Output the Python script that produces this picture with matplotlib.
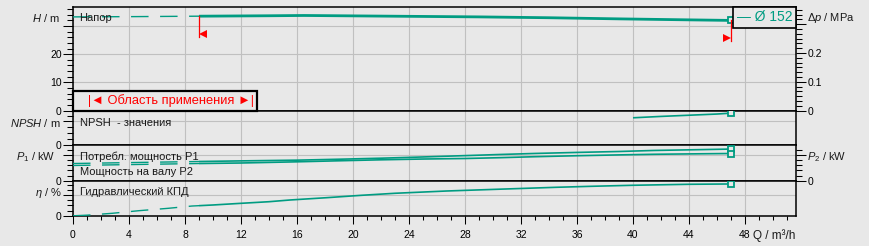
import numpy as np
import matplotlib.pyplot as plt
from matplotlib.ticker import MultipleLocator, AutoMinorLocator
from matplotlib.offsetbox import AnchoredText
from matplotlib.transforms import ScaledTranslation

plt.rcParams['font.family'] = ['Liberation Sans', 'DejaVu Sans']
plt.rcParams['mathtext.fontset'] = 'custom'
plt.rcParams['mathtext.rm'] = 'Liberation Sans'
plt.rcParams['mathtext.it'] = 'Liberation Sans:italic'

# --- data ---
q_head = [0, 4.5, 9, 14, 16.5, 19, 24, 29, 34, 39, 44, 47]
head = [33.2, 33.3, 33.45, 33.6, 33.7, 33.6, 33.4, 33.2, 32.9, 32.5, 32.15, 31.95]

q_npsh = [40, 42, 44, 46, 47]
npsh = [4.62, 4.85, 5.05, 5.25, 5.4]

q_pow = [0, 4.5, 9, 12, 16, 19, 22, 25, 28, 30.5, 33, 36, 39, 41.5, 45, 47]
p1 = [3.35, 3.55, 3.74, 3.86, 4.0, 4.18, 4.38, 4.62, 4.88, 5.1, 5.3, 5.5, 5.68, 5.88, 6.05, 6.15]
p2 = [2.97, 3.16, 3.35, 3.45, 3.68, 3.88, 4.07, 4.22, 4.32, 4.48, 4.67, 4.86, 5.02, 5.14, 5.24, 5.29]

q_eff = [0, 1, 2.8, 4.7, 6.8, 8.5, 10, 12, 14, 15.5, 18.1, 20.6, 23, 26.7, 30.3, 34.5, 37, 40, 44, 47]
eff = [0, 1.2, 4.8, 9.8, 14.4, 18.8, 20.8, 24, 27.1, 30.4, 34.8, 39.4, 43.3, 47.7, 51, 54.8, 56.7, 58.7, 60.6, 61.2]

q_range = [9, 47]          # application range (Область применения)
x_ticks = list(range(0, 49, 4))
curve_name = 'Ø 152'

TEAL = '#009c82'
BG = '#e8e8e8'
GRID = '#c0c0c0'
TXT = '#1a1a1a'

W, H = 869, 246
fig = plt.figure(figsize=(W / 100, H / 100), dpi=100, facecolor=BG)


def panel(top, bottom, left=73, right=796):
    """Axes placed by pixel edges."""
    ax = fig.add_axes([left / W, 1 - bottom / H, (right - left) / W, (bottom - top) / H])
    ax.set_facecolor(BG)
    ax.set_xlim(0, (right - left) / 14)
    ax.set_xticks(x_ticks)
    ax.xaxis.set_minor_locator(MultipleLocator(1))
    ax.grid(True, which='major', color=GRID, lw=0.8)
    ax.set_axisbelow(True)
    for s in ax.spines.values():
        s.set_color('black')
        s.set_linewidth(1.1)
    ax.tick_params(axis='y', which='major', length=7.2, width=0.75, labelsize=7.5, pad=1)
    ax.tick_params(axis='y', which='minor', length=4, width=0.75)
    ax.tick_params(axis='x', which='both', bottom=False, labelbottom=False)
    return ax


def right_axis(ax, scale, ticks, labels, nminor):
    tw = ax.twinx()
    lo, hi = ax.get_ylim()
    tw.set_ylim(lo * scale, hi * scale)
    tw.set_yticks(ticks, labels)
    tw.yaxis.set_minor_locator(AutoMinorLocator(nminor))
    tw.tick_params(axis='y', which='major', length=7.2, width=0.75, labelsize=7.5, pad=1)
    tw.tick_params(axis='y', which='minor', length=4, width=0.75)
    for s in tw.spines.values():
        s.set_visible(False)
    return tw


def curve(ax, q, v, lw, split=None):
    """Dashed outside the application range, solid inside, open square at the end."""
    q = np.asarray(q, float)
    v = np.asarray(v, float)
    if split is not None and q[0] < split:
        qa = q[q <= split]
        va = v[q <= split]
        if qa[-1] < split:
            qa = np.append(qa, split)
            va = np.append(va, np.interp(split, q, v))
        ax.plot(qa, va, color=TEAL, lw=1.0, ls=(0, (12.6, 8.3)), zorder=3)
        qb = np.insert(q[q > split], 0, split)
        vb = np.insert(v[q > split], 0, np.interp(split, q, v))
    else:
        qb, vb = q, v
    ax.plot(qb, vb, color=TEAL, lw=lw, solid_capstyle='butt', zorder=3)
    ax.plot(q[-1], v[-1], marker='s', ms=5, mfc=BG, mec=TEAL, mew=1.3, zorder=4)


def side_label(ax, y, text, right=False, gap=13):
    if right:
        ax.text(1 + 11 / 723, y, text, transform=ax.get_yaxis_transform(),
                ha='left', va='center', fontsize=8, color=TXT)
    else:
        ax.text(-gap / 723, y, text, transform=ax.get_yaxis_transform(),
                ha='right', va='center', fontsize=8, color=TXT)


# panels (pixel rows)
ax_h = panel(7, 110.7)
ax_n = panel(110.7, 145.3)
ax_p = panel(145.3, 180.8)
ax_e = panel(180.8, 215.8)

# --- head ---
ax_h.set_ylim(0, 36.7)
ax_h.set_yticks([0, 10, 20, 30], ['0', '10', '20', ''])
ax_h.yaxis.set_minor_locator(MultipleLocator(2))
curve(ax_h, q_head, head, 2.0, split=q_range[0])
side_label(ax_h, 32.9, r'$H$ / m')
ax_h.text(0.009, 0.894, 'Напор', transform=ax_h.transAxes, fontsize=8, color=TXT,
          va='center', ha='left', zorder=5)

# application range markers
h_lo = np.interp(q_range[0], q_head, head)
h_hi = np.interp(q_range[1], q_head, head)
dx = 4.2 / 100
for q, h, mk, sgn in [(q_range[0], h_lo, '<', 1), (q_range[1], h_hi, '>', -1)]:
    ax_h.plot([q, q], [h, h - 7.4], color='red', lw=0.9, zorder=5)
    tr = ax_h.transData + ScaledTranslation(sgn * dx, 0, fig.dpi_scale_trans)
    ax_h.plot(q, h - 6.2, marker=mk, ms=6.2, color='red', mew=0, transform=tr, zorder=5)

# curve number, mostly hidden behind the legend box
ax_h.annotate('1', (q_head[-1], head[-1]), xytext=(0.5, 2), textcoords='offset points',
              fontsize=7, color=TEAL, ha='left', va='bottom', zorder=2)

ax_dp = right_axis(ax_h, 0.00981, [0, 0.1, 0.2, 0.3], ['0', '0.1', '0.2', ''], 6)
side_label(ax_dp, 0.323, r'$\Delta p$ / MPa', right=True)

leg = AnchoredText('— ' + curve_name, loc='upper right', pad=0.25, borderpad=0,
                   prop=dict(size=10, color=TEAL))
leg.patch.set_facecolor(BG)
leg.patch.set_edgecolor('black')
leg.patch.set_linewidth(1.2)
leg.patch.set_boxstyle('square,pad=0')
leg.set_zorder(10)
ax_dp.add_artist(leg)

rng = AnchoredText('   |◄ Область применения ►|', loc='lower left', pad=0.28, borderpad=0,
                   prop=dict(size=9.3, color='red'))
rng.patch.set_facecolor(BG)
rng.patch.set_edgecolor('black')
rng.patch.set_linewidth(1.6)
rng.patch.set_boxstyle('square,pad=0')
rng.set_zorder(10)
ax_dp.add_artist(rng)

# --- NPSH ---
ax_n.set_ylim(0, 5.81)
ax_n.set_yticks([0, 4], ['0', ''])
ax_n.yaxis.set_minor_locator(MultipleLocator(1))
curve(ax_n, q_npsh, npsh, 1.2)
side_label(ax_n, 3.8, r'$NPSH$ / m', gap=12)
ax_n.text(0.009, 0.645, 'NPSH  - значения', transform=ax_n.transAxes, fontsize=8,
          color=TXT, va='center', ha='left', zorder=5)

# --- power ---
ax_p.set_ylim(0, 6.88)
ax_p.set_yticks([0, 5], ['0', ''])
ax_p.yaxis.set_minor_locator(MultipleLocator(1))
curve(ax_p, q_pow, p1, 1.2, split=q_range[0])
curve(ax_p, q_pow, p2, 1.2, split=q_range[0])
side_label(ax_p, 4.67, r'$P_1$ / kW', gap=18)
ax_p.text(0.009, 0.67, 'Потребл. мощность P1', transform=ax_p.transAxes, fontsize=8,
          color=TXT, va='center', ha='left', zorder=5)
ax_p.text(0.009, 0.234, 'Мощность на валу P2', transform=ax_p.transAxes, fontsize=8,
          color=TXT, va='center', ha='left', zorder=5)
ax_p2 = right_axis(ax_p, 1.0, [0, 5], ['0', ''], 5)
side_label(ax_p2, 4.67, r'$P_2$ / kW', right=True)

# --- efficiency ---
ax_e.set_ylim(0, 67.3)
ax_e.set_yticks([0, 40], ['0', ''])
ax_e.yaxis.set_minor_locator(MultipleLocator(10))
curve(ax_e, q_eff, eff, 1.2, split=q_range[0])
side_label(ax_e, 44.5, r'$\eta$ / %', gap=11.5)
ax_e.text(0.009, 0.68, 'Гидравлический КПД', transform=ax_e.transAxes, fontsize=8,
          color=TXT, va='center', ha='left', zorder=5)

ax_e.tick_params(axis='x', which='both', bottom=True, labelbottom=True, direction='out',
                 width=0.75, labelsize=7.5, pad=4.5)
ax_e.tick_params(axis='x', which='major', length=6)
ax_e.tick_params(axis='x', which='minor', length=3)
ax_e.text(48.55, -0.534, 'Q / m³/h', transform=ax_e.get_xaxis_transform(),
          ha='left', va='center_baseline', fontsize=8.5, color=TXT)

fig.savefig('out.png', dpi=100, facecolor=BG)
